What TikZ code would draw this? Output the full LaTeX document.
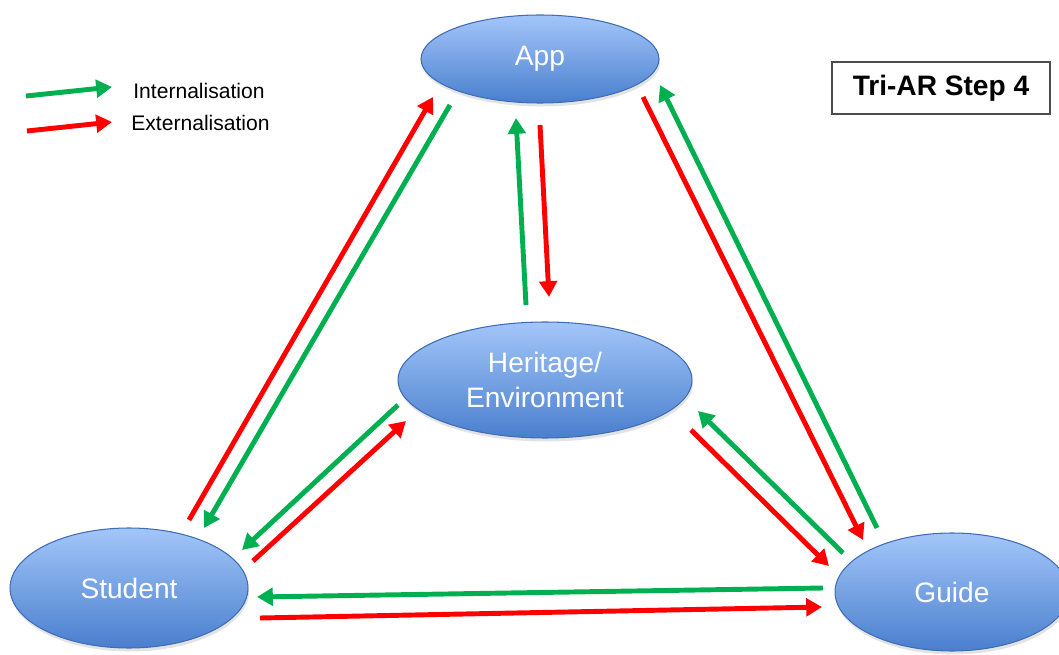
\documentclass[tikz,border=0pt]{standalone}
\usepackage{fontspec}
\setmainfont{Liberation Sans}
\usetikzlibrary{arrows.meta,positioning,calc,shapes.geometric,shadows}
\definecolor{skyhi}{HTML}{A3C6F9}
\definecolor{skylo}{HTML}{4A7FCE}
\definecolor{skyline}{HTML}{3E6DB5}
\definecolor{intgreen}{HTML}{00B050}
\definecolor{extred}{HTML}{FF0000}

\begin{document}
\begin{tikzpicture}[x=0.02cm,y=-0.02cm,
    bubble/.style={ellipse,draw=skyline,line width=0.6pt,top color=skyhi,bottom color=skylo,
                   text=white,font=\fontsize{16}{20}\selectfont,align=center,inner sep=0pt,
                   drop shadow={opacity=0.22,shadow xshift=0.6pt,shadow yshift=-2pt}},
    intarr/.style={-{Triangle[length=9pt,width=10pt]},draw=intgreen,line width=2.8pt},
    extarr/.style={-{Triangle[length=9pt,width=10pt]},draw=extred,line width=2.8pt},
    keytext/.style={anchor=west,font=\fontsize{12}{14}\selectfont,inner sep=0pt}]
  \useasboundingbox (0,0) rectangle (1059,655);

  % actors
  \node[bubble,minimum width=4.76cm,minimum height=1.76cm] (app) at (540,59) {App};
  \node[bubble,minimum width=5.88cm,minimum height=2.32cm] (her) at (545,380) {Heritage/\\Environment};
  \node[bubble,minimum width=4.76cm,minimum height=2.40cm] (stu) at (129,588) {Student};
  \node[bubble,minimum width=4.68cm,minimum height=2.36cm] (gui) at (952,592) {Guide};

  % step label
  \node[draw=black!70,line width=0.8pt,minimum width=4.36cm,minimum height=1.04cm,
        font=\fontsize{16}{18}\selectfont\bfseries] (step4) at (941,88) {Tri-AR Step 4};

  % legend
  \coordinate (ki0) at (26,96);  \coordinate (ki1) at (112,87);
  \coordinate (ke0) at (27,131); \coordinate (ke1) at (112,122);
  \draw[intarr] (ki0) -- (ki1);
  \draw[extarr] (ke0) -- (ke1);
  \node[keytext] (kint) at (133,91) {Internalisation};
  \node[keytext] (kext) at (131,123) {Externalisation};

  % student -- app
  \draw[extarr] ($(stu)+(60,-68)$) -- ($(app)+(-107,38)$);
  \draw[intarr] ($(app)+(-90,46)$) -- ($(stu)+(75,-60)$);
  % app -- heritage
  \draw[extarr] ($(app)+(0,66)$) -- ($(her)+(4,-83)$);
  \draw[intarr] ($(her)+(-19,-75)$) -- ($(app)+(-24,59)$);
  % app -- guide
  \draw[extarr] ($(app)+(103,38)$) -- ($(gui)+(-89,-52)$);
  \draw[intarr] ($(gui)+(-75,-64)$) -- ($(app)+(120,26)$);
  % heritage -- student
  \draw[intarr] ($(her)+(-147,25)$) -- ($(stu)+(113,-38)$);
  \draw[extarr] ($(stu)+(124,-27)$) -- ($(her)+(-139,41)$);
  % heritage -- guide
  \draw[extarr] ($(her)+(146,50)$) -- ($(gui)+(-123,-26)$);
  \draw[intarr] ($(gui)+(-109,-39)$) -- ($(her)+(153,31)$);
  % student -- guide
  \draw[intarr] ($(gui)+(-129,-4)$) -- ($(stu)+(128,9)$);
  \draw[extarr] ($(stu)+(131,30)$) -- ($(gui)+(-130,15)$);
\end{tikzpicture}
\end{document}
